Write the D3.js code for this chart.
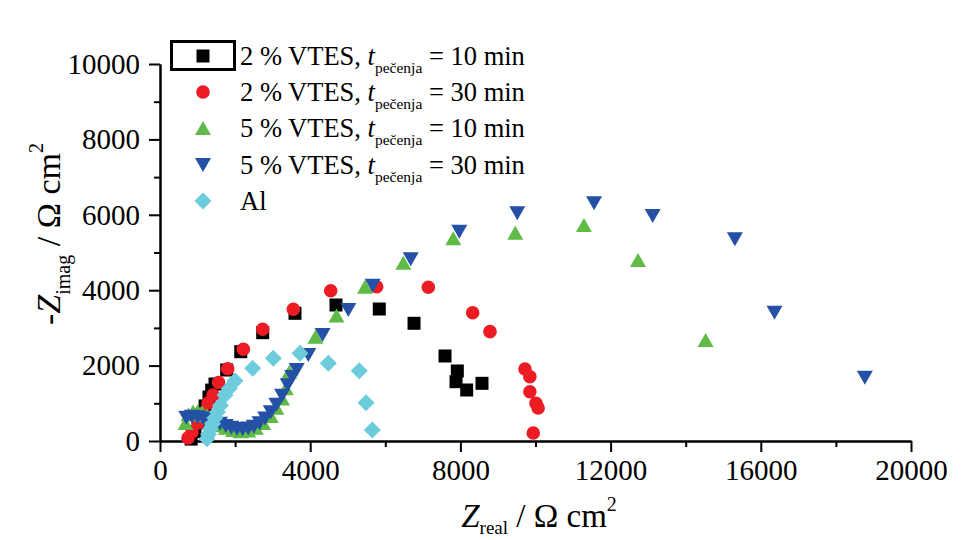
<!DOCTYPE html>
<html><head><meta charset="utf-8">
<script src="https://cdn.jsdelivr.net/npm/d3@7"></script>
<style>
body{margin:0;background:#fff}
text{font-family:"Liberation Serif","Times New Roman",serif;fill:#000}
</style></head>
<body><svg id="c" width="967" height="540"></svg>
<script>
// ---- data ----
const xTicks = [0, 4000, 8000, 12000, 16000, 20000];
const xMinor = [2000, 6000, 10000, 14000, 18000];
const yTicks = [0, 2000, 4000, 6000, 8000, 10000];
const yMinor = [1000, 3000, 5000, 7000, 9000];

const names = ["2 % VTES", "2 % VTES", "5 % VTES", "5 % VTES", "Al"];
const times = ["10", "30", "10", "30", null];

// 2 % VTES, 10 min
const s1x = [830, 930, 1020, 1110, 1200, 1305, 1376, 1465, 1776, 2150, 2735, 3595, 4687, 5840, 6765, 7590, 7918, 7883, 8167, 8575];
const s1y = [50, 250, 480, 700, 930, 1167, 1350, 1512, 1883, 2369, 2873, 3387, 3607, 3501, 3122, 2255, 1857, 1573, 1353, 1530];
// 2 % VTES, 30 min
const s2x = [745, 852, 1012, 1145, 1278, 1411, 1560, 1802, 2219, 2735, 3551, 4546, 5770, 7146, 8327, 8788, 9720, 9850, 9850, 10013, 10070, 9940];
const s2y = [80, 239, 477, 743, 1008, 1220, 1550, 1918, 2432, 2963, 3493, 3987, 4093, 4077, 3403, 2900, 1910, 1706, 1308, 1000, 875, 212];
// 5 % VTES, 10 min
const s3x = [680, 760, 880, 1000, 1120, 1250, 1380, 1550, 1750, 1950, 2150, 2350, 2550, 2750, 2950, 3100, 3250, 3350, 3443, 4140, 4700, 5460, 6480, 7810, 9462, 11290, 12730, 14530];
const s3y = [480, 700, 780, 790, 760, 680, 560, 420, 350, 290, 260, 280, 350, 480, 660, 880, 1130, 1400, 1838, 2767, 3330, 4093, 4730, 5375, 5525, 5730, 4800, 2680];
// 5 % VTES, 30 min
const s4x = [700, 850, 1000, 1150, 1280, 1450, 1600, 1750, 1900, 2050, 2200, 2350, 2500, 2650, 2800, 2950, 3100, 3250, 3400, 3520, 3640, 3950, 4330, 5015, 5664, 6677, 7970, 9515, 11560, 13120, 15310, 16365, 18770];
const s4y = [620, 640, 630, 600, 560, 530, 460, 400, 350, 320, 310, 330, 380, 470, 600, 760, 960, 1200, 1480, 1700, 1883, 2281, 2810, 3475, 4120, 4820, 5550, 6040, 6305, 5970, 5350, 3404, 1680];
// Al
const s5x = [1250, 1290, 1340, 1400, 1460, 1530, 1610, 1731, 1850, 1997, 2467, 3017, 3728, 4483, 5306, 5486, 5654];
const s5y = [60, 180, 320, 460, 610, 770, 940, 1220, 1400, 1600, 1928, 2193, 2326, 2061, 1865, 1016, 292];

const colors = ["#000000", "#ED1C24", "#5FBB46", "#2451A6", "#6CCCDC"];

// ---- chart ----
const svg = d3.select("#c");
const x = d3.scaleLinear().domain([0, 20000]).range([160, 911]);
const y = d3.scaleLinear().domain([0, 10000]).range([441, 64]);

// custom symbols
const sq = {draw(c, s){const h=6.5; c.rect(-h,-h,2*h,2*h);}};
const ci = {draw(c, s){c.moveTo(6.8,0); c.arc(0,0,6.8,0,2*Math.PI);}};
const tu = {draw(c, s){c.moveTo(0,-7); c.lineTo(8,7); c.lineTo(-8,7); c.closePath();}};
const td = {draw(c, s){c.moveTo(0,7); c.lineTo(8,-7); c.lineTo(-8,-7); c.closePath();}};
const di = {draw(c, s){c.moveTo(0,-8.5); c.lineTo(8.5,0); c.lineTo(0,8.5); c.lineTo(-8.5,0); c.closePath();}};
const syms = [sq, ci, tu, td, di];

const series = [[s1x,s1y],[s2x,s2y],[s3x,s3y],[s4x,s4y],[s5x,s5y]];

// axes
function styleAxis(g){
  g.selectAll("path.domain").attr("stroke","#000").attr("stroke-width",2);
  g.selectAll(".tick line").attr("stroke","#000").attr("stroke-width",2);
}
const gx = svg.append("g").attr("transform","translate(0,441)")
  .call(d3.axisBottom(x).tickValues(xTicks).tickSize(11).tickSizeOuter(0).tickPadding(7).tickFormat(d3.format("d")));
gx.selectAll("text").attr("font-size",29).attr("font-family","Liberation Serif").attr("fill","#000");
styleAxis(gx);
const gxm = svg.append("g").attr("transform","translate(0,441)")
  .call(d3.axisBottom(x).tickValues(xMinor).tickSize(6).tickSizeOuter(0).tickFormat(""));
styleAxis(gxm);

const gy = svg.append("g").attr("transform","translate(160,0)")
  .call(d3.axisLeft(y).tickValues(yTicks).tickSize(11).tickSizeOuter(0).tickPadding(9).tickFormat(d3.format("d")));
gy.selectAll("text").attr("font-size",29).attr("font-family","Liberation Serif").attr("fill","#000");
styleAxis(gy);
const gym = svg.append("g").attr("transform","translate(160,0)")
  .call(d3.axisLeft(y).tickValues(yMinor).tickSize(6).tickSizeOuter(0).tickFormat(""));
styleAxis(gym);

// points
series.forEach((s, i) => {
  const pts = s[0].map((v, k) => [v, s[1][k]]);
  svg.append("g").selectAll("path").data(pts).join("path")
    .attr("transform", d => `translate(${x(d[0])},${y(d[1])})`)
    .attr("d", d3.symbol().type(syms[i]))
    .attr("fill", colors[i]);
});

// axis titles
const yl = svg.append("text").attr("transform","translate(60,234) rotate(-90)")
  .attr("text-anchor","middle").attr("font-size",34);
yl.append("tspan").text("-");
yl.append("tspan").attr("font-style","italic").text("Z");
yl.append("tspan").attr("font-size",20).attr("dy",10).text("imag");
yl.append("tspan").attr("dy",-10).text(" / Ω cm");
yl.append("tspan").attr("font-size",20).attr("dy",-17).text("2");

const xl = svg.append("text").attr("transform","translate(539,527)")
  .attr("text-anchor","middle").attr("font-size",33);
xl.append("tspan").attr("font-style","italic").text("Z");
xl.append("tspan").attr("font-size",19).attr("dy",7).text("real");
xl.append("tspan").attr("dy",-7).text(" / Ω cm");
xl.append("tspan").attr("font-size",20).attr("dy",-16).text("2");

// legend
const legY = [56, 92, 128, 165, 201];
const lg = svg.append("g");
lg.append("rect").attr("x",171.5).attr("y",41.5).attr("width",63).attr("height",28)
  .attr("fill","none").attr("stroke","#000").attr("stroke-width",3);
names.forEach((n, i) => {
  lg.append("path").attr("transform",`translate(203,${legY[i]})`)
    .attr("d", d3.symbol().type(syms[i])).attr("fill", colors[i]);
  const t = lg.append("text").attr("x",240).attr("y",legY[i]+9).attr("font-size",26.5);
  if (times[i]) {
    t.append("tspan").text(n + ", ");
    t.append("tspan").attr("font-style","italic").text("t");
    t.append("tspan").attr("font-size",15.5).attr("dy",8).text("pečenja");
    t.append("tspan").attr("dy",-8).text(" = " + times[i] + " min");
  } else {
    t.append("tspan").text(n);
  }
});
</script></body></html>
